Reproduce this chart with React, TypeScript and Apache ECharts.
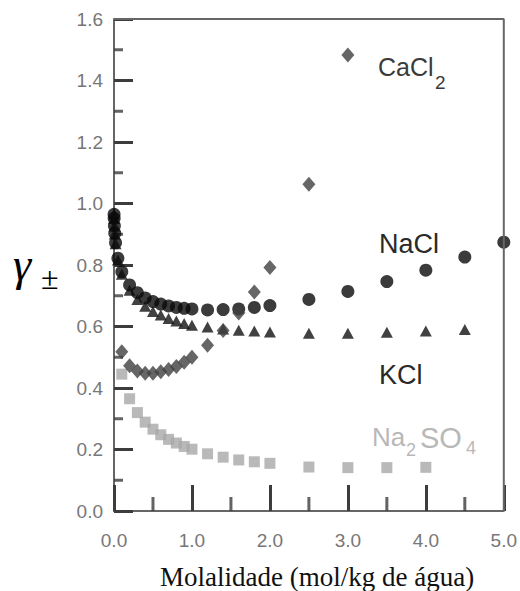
import React, { useEffect, useRef } from "react";
import * as echarts from "echarts";

// Molality (mol/kg) values
const molNaCl = [0.001, 0.002, 0.005, 0.01, 0.02, 0.05, 0.1, 0.2, 0.3, 0.4, 0.5, 0.6, 0.7, 0.8, 0.9, 1.0, 1.2, 1.4, 1.6, 1.8, 2.0, 2.5, 3.0, 3.5, 4.0, 4.5, 5.0];
const gammaNaCl = [0.965, 0.952, 0.928, 0.903, 0.872, 0.822, 0.778, 0.735, 0.71, 0.693, 0.681, 0.673, 0.667, 0.662, 0.659, 0.657, 0.654, 0.655, 0.657, 0.662, 0.668, 0.688, 0.714, 0.746, 0.783, 0.826, 0.874];

const molKCl = [0.001, 0.002, 0.005, 0.01, 0.02, 0.05, 0.1, 0.2, 0.3, 0.4, 0.5, 0.6, 0.7, 0.8, 0.9, 1.0, 1.2, 1.4, 1.6, 1.8, 2.0, 2.5, 3.0, 3.5, 4.0, 4.5];
const gammaKCl = [0.965, 0.951, 0.927, 0.901, 0.869, 0.816, 0.77, 0.718, 0.688, 0.666, 0.649, 0.637, 0.626, 0.618, 0.61, 0.604, 0.598, 0.592, 0.588, 0.585, 0.582, 0.578, 0.578, 0.581, 0.585, 0.59];

const molCaCl2 = [0.1, 0.2, 0.3, 0.4, 0.5, 0.6, 0.7, 0.8, 0.9, 1.0, 1.2, 1.4, 1.6, 1.8, 2.0, 2.5, 3.0];
const gammaCaCl2 = [0.518, 0.472, 0.455, 0.448, 0.448, 0.453, 0.46, 0.47, 0.484, 0.5, 0.539, 0.587, 0.644, 0.712, 0.792, 1.063, 1.483];

const molNa2SO4 = [0.1, 0.2, 0.3, 0.4, 0.5, 0.6, 0.7, 0.8, 0.9, 1.0, 1.2, 1.4, 1.6, 1.8, 2.0, 2.5, 3.0, 3.5, 4.0];
const gammaNa2SO4 = [0.445, 0.365, 0.32, 0.289, 0.266, 0.248, 0.233, 0.221, 0.21, 0.201, 0.186, 0.175, 0.166, 0.16, 0.155, 0.143, 0.141, 0.141, 0.142];

const xTickLabels = ["0.0", "1.0", "2.0", "3.0", "4.0", "5.0"];
const yTickLabels = ["0.0", "0.2", "0.4", "0.6", "0.8", "1.0", "1.2", "1.4", "1.6"];

// Minor (half-step) tick positions
const xMinorTicks = [0.5, 1.5, 2.5, 3.5, 4.5];
const yMinorTicks = [0.1, 0.3, 0.5, 0.7, 0.9, 1.1, 1.3, 1.5];

const X_MIN = 0;
const X_MAX = 5;
const Y_MIN = 0;
const Y_MAX = 1.6;

const zip = (xs: number[], ys: number[]) => xs.map((x, i) => [x, ys[i]]);

const SANS = "Liberation Sans, Arial, Helvetica, sans-serif";
const SERIF = "Liberation Serif, Times New Roman, serif";
const AXIS = "#666";
const TICK = "#3c3c3c";

const label = (text: string, left: number, top: number, fontSize: number, color: string, extra: any = {}) => ({
  text,
  left,
  top,
  padding: 0,
  textStyle: { fontSize, lineHeight: fontSize, fontFamily: SANS, fontWeight: "normal", color, ...extra },
});

export default function App() {
  const ref = useRef<HTMLDivElement>(null);
  useEffect(() => {
    if (!ref.current) return;
    const chart = echarts.init(ref.current, undefined, { renderer: "svg" });
    const labelStyle = { color: "#777", fontSize: 19, fontFamily: SANS };
    chart.setOption({
      animation: false,
      title: [
        label("CaCl", 378, 54, 25, "#3a3a3a"),
        label("2", 435, 73, 19, "#3a3a3a"),
        label("NaCl", 379, 230, 27, "#2a2a2a"),
        label("KCl", 379, 361, 27, "#2a2a2a"),
        label("Na", 372, 424, 26, "#b8b8b8"),
        label("2", 406, 441, 18, "#b8b8b8"),
        label("SO", 420, 423, 29, "#b8b8b8"),
        label("4", 466, 439, 18, "#b8b8b8"),
        label("γ", 13, 241, 46, "#000", { fontStyle: "italic", fontFamily: SERIF }),
        label("±", 41, 262, 32, "#000", { fontFamily: SERIF }),
        label("Molalidade (mol/kg de água)", 160, 563, 27, "#111", { fontFamily: SERIF }),
      ],
      grid: { left: 114, top: 19, width: 393, height: 492 },
      xAxis: {
        type: "value",
        min: X_MIN,
        max: X_MAX,
        interval: 1,
        axisLine: { show: true, lineStyle: { color: AXIS, width: 2 } },
        splitLine: { show: false },
        axisTick: { show: true, inside: true, length: 26, lineStyle: { color: TICK, width: 3 } },
        axisLabel: { ...labelStyle, margin: 20, formatter: (v: number) => xTickLabels[Math.round(v)] ?? "" },
      },
      yAxis: {
        type: "value",
        min: Y_MIN,
        max: Y_MAX,
        interval: 0.2,
        axisLine: { show: true, lineStyle: { color: AXIS, width: 2 } },
        splitLine: { show: false },
        axisTick: { show: true, inside: true, length: 19, lineStyle: { color: TICK, width: 3 } },
        axisLabel: { ...labelStyle, margin: 11, formatter: (v: number) => yTickLabels[Math.round(v / 0.2)] ?? "" },
      },
      series: [
        {
          name: "frame",
          type: "line",
          silent: true,
          clip: false,
          symbol: "none",
          lineStyle: { color: AXIS, width: 2 },
          data: [
            [X_MIN, Y_MAX],
            [X_MAX, Y_MAX],
            [X_MAX, Y_MIN],
          ],
        },
        {
          name: "xMinor",
          type: "scatter",
          symbol: "rect",
          symbolSize: [3, 14],
          symbolOffset: [0, -7],
          itemStyle: { color: TICK },
          data: xMinorTicks.map((v) => [v, Y_MIN]),
        },
        {
          name: "yMinor",
          type: "scatter",
          symbol: "rect",
          symbolSize: [9, 3],
          symbolOffset: [4.5, 0],
          itemStyle: { color: TICK },
          data: yMinorTicks.map((v) => [X_MIN, v]),
        },
        {
          name: "Na2SO4",
          type: "scatter",
          symbol: "rect",
          symbolSize: 11,
          itemStyle: { color: "#a8a8a8" },
          data: zip(molNa2SO4, gammaNa2SO4),
        },
        {
          name: "KCl",
          type: "scatter",
          symbol: "triangle",
          symbolSize: [12, 11],
          itemStyle: { color: "#111" },
          data: zip(molKCl, gammaKCl),
        },
        {
          name: "NaCl",
          type: "scatter",
          symbol: "circle",
          symbolSize: 13,
          itemStyle: { color: "#0a0a0a" },
          data: zip(molNaCl, gammaNaCl),
        },
        {
          name: "CaCl2",
          type: "scatter",
          symbol: "diamond",
          symbolSize: [13, 15],
          itemStyle: { color: "#404040" },
          data: zip(molCaCl2, gammaCaCl2),
        },
      ],
    });
    return () => chart.dispose();
  }, []);
  return <div ref={ref} style={{ position: "absolute", left: 0, top: 0, width: 520, height: 591 }} />;
}
